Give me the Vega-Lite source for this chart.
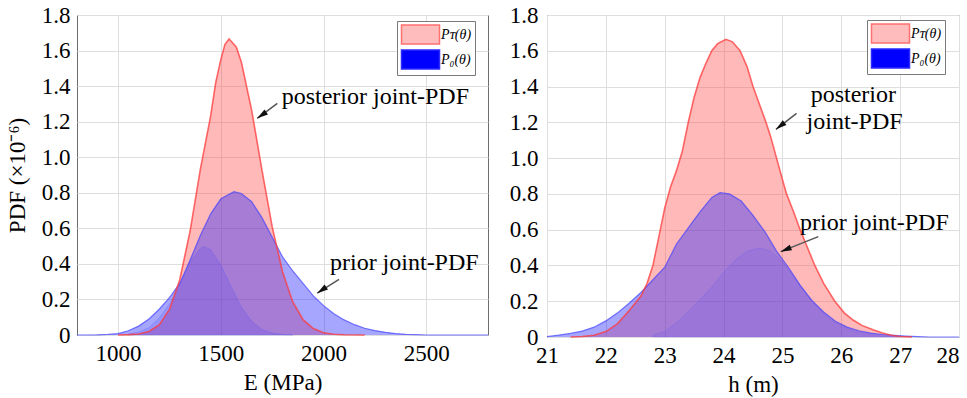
{
  "$schema": "https://vega.github.io/schema/vega-lite/v6.json",
  "padding": {"left": 5, "top": 3, "right": 2, "bottom": 0},
  "background": "white",
  "datasets": {
    "E": [
      {"x": 1000, "pdf": 0, "dist": "Pᴛ(θ)", "part": "env"},
      {"x": 1050, "pdf": 0.002, "dist": "Pᴛ(θ)", "part": "env"},
      {"x": 1100, "pdf": 0.006, "dist": "Pᴛ(θ)", "part": "env"},
      {"x": 1150, "pdf": 0.02, "dist": "Pᴛ(θ)", "part": "env"},
      {"x": 1200, "pdf": 0.057, "dist": "Pᴛ(θ)", "part": "env"},
      {"x": 1250, "pdf": 0.144, "dist": "Pᴛ(θ)", "part": "env"},
      {"x": 1300, "pdf": 0.311, "dist": "Pᴛ(θ)", "part": "env"},
      {"x": 1350, "pdf": 0.582, "dist": "Pᴛ(θ)", "part": "env"},
      {"x": 1400, "pdf": 0.93, "dist": "Pᴛ(θ)", "part": "env"},
      {"x": 1450, "pdf": 1.23, "dist": "Pᴛ(θ)", "part": "env"},
      {"x": 1475, "pdf": 1.42, "dist": "Pᴛ(θ)", "part": "env"},
      {"x": 1500, "pdf": 1.55, "dist": "Pᴛ(θ)", "part": "env"},
      {"x": 1520, "pdf": 1.635, "dist": "Pᴛ(θ)", "part": "env"},
      {"x": 1540, "pdf": 1.665, "dist": "Pᴛ(θ)", "part": "env"},
      {"x": 1575, "pdf": 1.62, "dist": "Pᴛ(θ)", "part": "env"},
      {"x": 1600, "pdf": 1.534, "dist": "Pᴛ(θ)", "part": "env"},
      {"x": 1650, "pdf": 1.264, "dist": "Pᴛ(θ)", "part": "env"},
      {"x": 1700, "pdf": 0.928, "dist": "Pᴛ(θ)", "part": "env"},
      {"x": 1750, "pdf": 0.608, "dist": "Pᴛ(θ)", "part": "env"},
      {"x": 1800, "pdf": 0.356, "dist": "Pᴛ(θ)", "part": "env"},
      {"x": 1850, "pdf": 0.186, "dist": "Pᴛ(θ)", "part": "env"},
      {"x": 1900, "pdf": 0.086, "dist": "Pᴛ(θ)", "part": "env"},
      {"x": 1950, "pdf": 0.036, "dist": "Pᴛ(θ)", "part": "env"},
      {"x": 2000, "pdf": 0.013, "dist": "Pᴛ(θ)", "part": "env"},
      {"x": 2050, "pdf": 0.004, "dist": "Pᴛ(θ)", "part": "env"},
      {"x": 2100, "pdf": 0.001, "dist": "Pᴛ(θ)", "part": "env"},
      {"x": 2200, "pdf": 0, "dist": "Pᴛ(θ)", "part": "env"},
      {"x": 800, "pdf": 0, "dist": "P₀(θ)", "part": "env"},
      {"x": 900, "pdf": 0.001, "dist": "P₀(θ)", "part": "env"},
      {"x": 950, "pdf": 0.003, "dist": "P₀(θ)", "part": "env"},
      {"x": 1000, "pdf": 0.008, "dist": "P₀(θ)", "part": "env"},
      {"x": 1050, "pdf": 0.024, "dist": "P₀(θ)", "part": "env"},
      {"x": 1100, "pdf": 0.05, "dist": "P₀(θ)", "part": "env"},
      {"x": 1150, "pdf": 0.09, "dist": "P₀(θ)", "part": "env"},
      {"x": 1200, "pdf": 0.145, "dist": "P₀(θ)", "part": "env"},
      {"x": 1250, "pdf": 0.21, "dist": "P₀(θ)", "part": "env"},
      {"x": 1300, "pdf": 0.29, "dist": "P₀(θ)", "part": "env"},
      {"x": 1350, "pdf": 0.42, "dist": "P₀(θ)", "part": "env"},
      {"x": 1400, "pdf": 0.56, "dist": "P₀(θ)", "part": "env"},
      {"x": 1450, "pdf": 0.68, "dist": "P₀(θ)", "part": "env"},
      {"x": 1500, "pdf": 0.766, "dist": "P₀(θ)", "part": "env"},
      {"x": 1564, "pdf": 0.806, "dist": "P₀(θ)", "part": "env"},
      {"x": 1600, "pdf": 0.796, "dist": "P₀(θ)", "part": "env"},
      {"x": 1650, "pdf": 0.75, "dist": "P₀(θ)", "part": "env"},
      {"x": 1700, "pdf": 0.66, "dist": "P₀(θ)", "part": "env"},
      {"x": 1750, "pdf": 0.55, "dist": "P₀(θ)", "part": "env"},
      {"x": 1800, "pdf": 0.44, "dist": "P₀(θ)", "part": "env"},
      {"x": 1850, "pdf": 0.36, "dist": "P₀(θ)", "part": "env"},
      {"x": 1900, "pdf": 0.29, "dist": "P₀(θ)", "part": "env"},
      {"x": 1950, "pdf": 0.22, "dist": "P₀(θ)", "part": "env"},
      {"x": 2000, "pdf": 0.165, "dist": "P₀(θ)", "part": "env"},
      {"x": 2050, "pdf": 0.12, "dist": "P₀(θ)", "part": "env"},
      {"x": 2100, "pdf": 0.085, "dist": "P₀(θ)", "part": "env"},
      {"x": 2150, "pdf": 0.058, "dist": "P₀(θ)", "part": "env"},
      {"x": 2200, "pdf": 0.038, "dist": "P₀(θ)", "part": "env"},
      {"x": 2250, "pdf": 0.025, "dist": "P₀(θ)", "part": "env"},
      {"x": 2300, "pdf": 0.015, "dist": "P₀(θ)", "part": "env"},
      {"x": 2350, "pdf": 0.008, "dist": "P₀(θ)", "part": "env"},
      {"x": 2400, "pdf": 0.004, "dist": "P₀(θ)", "part": "env"},
      {"x": 2450, "pdf": 0.002, "dist": "P₀(θ)", "part": "env"},
      {"x": 2500, "pdf": 0, "dist": "P₀(θ)", "part": "env"},
      {"x": 2800, "pdf": 0, "dist": "P₀(θ)", "part": "env"},
      {"x": 1050, "pdf": 0.005, "dist": "P₀(θ)", "part": "inner"},
      {"x": 1100, "pdf": 0.017, "dist": "P₀(θ)", "part": "inner"},
      {"x": 1150, "pdf": 0.041, "dist": "P₀(θ)", "part": "inner"},
      {"x": 1200, "pdf": 0.095, "dist": "P₀(θ)", "part": "inner"},
      {"x": 1250, "pdf": 0.175, "dist": "P₀(θ)", "part": "inner"},
      {"x": 1300, "pdf": 0.28, "dist": "P₀(θ)", "part": "inner"},
      {"x": 1350, "pdf": 0.41, "dist": "P₀(θ)", "part": "inner"},
      {"x": 1400, "pdf": 0.487, "dist": "P₀(θ)", "part": "inner"},
      {"x": 1418, "pdf": 0.497, "dist": "P₀(θ)", "part": "inner"},
      {"x": 1450, "pdf": 0.48, "dist": "P₀(θ)", "part": "inner"},
      {"x": 1500, "pdf": 0.394, "dist": "P₀(θ)", "part": "inner"},
      {"x": 1550, "pdf": 0.271, "dist": "P₀(θ)", "part": "inner"},
      {"x": 1600, "pdf": 0.157, "dist": "P₀(θ)", "part": "inner"},
      {"x": 1650, "pdf": 0.077, "dist": "P₀(θ)", "part": "inner"},
      {"x": 1700, "pdf": 0.031, "dist": "P₀(θ)", "part": "inner"},
      {"x": 1750, "pdf": 0.011, "dist": "P₀(θ)", "part": "inner"},
      {"x": 1800, "pdf": 0.003, "dist": "P₀(θ)", "part": "inner"},
      {"x": 1850, "pdf": 0, "dist": "P₀(θ)", "part": "inner"}
    ],
    "h": [
      {"x": 21.4, "pdf": 0, "dist": "Pᴛ(θ)", "part": "env"},
      {"x": 21.6, "pdf": 0.003, "dist": "Pᴛ(θ)", "part": "env"},
      {"x": 21.8, "pdf": 0.01, "dist": "Pᴛ(θ)", "part": "env"},
      {"x": 22.0, "pdf": 0.03, "dist": "Pᴛ(θ)", "part": "env"},
      {"x": 22.2, "pdf": 0.075, "dist": "Pᴛ(θ)", "part": "env"},
      {"x": 22.4, "pdf": 0.15, "dist": "Pᴛ(θ)", "part": "env"},
      {"x": 22.6, "pdf": 0.23, "dist": "Pᴛ(θ)", "part": "env"},
      {"x": 22.7, "pdf": 0.3, "dist": "Pᴛ(θ)", "part": "env"},
      {"x": 22.8, "pdf": 0.4, "dist": "Pᴛ(θ)", "part": "env"},
      {"x": 22.9, "pdf": 0.56, "dist": "Pᴛ(θ)", "part": "env"},
      {"x": 23.0, "pdf": 0.72, "dist": "Pᴛ(θ)", "part": "env"},
      {"x": 23.1, "pdf": 0.84, "dist": "Pᴛ(θ)", "part": "env"},
      {"x": 23.2, "pdf": 0.93, "dist": "Pᴛ(θ)", "part": "env"},
      {"x": 23.3, "pdf": 1.04, "dist": "Pᴛ(θ)", "part": "env"},
      {"x": 23.4, "pdf": 1.2, "dist": "Pᴛ(θ)", "part": "env"},
      {"x": 23.5, "pdf": 1.34, "dist": "Pᴛ(θ)", "part": "env"},
      {"x": 23.6, "pdf": 1.45, "dist": "Pᴛ(θ)", "part": "env"},
      {"x": 23.7, "pdf": 1.53, "dist": "Pᴛ(θ)", "part": "env"},
      {"x": 23.8, "pdf": 1.6, "dist": "Pᴛ(θ)", "part": "env"},
      {"x": 23.9, "pdf": 1.64, "dist": "Pᴛ(θ)", "part": "env"},
      {"x": 24.04, "pdf": 1.664, "dist": "Pᴛ(θ)", "part": "env"},
      {"x": 24.15, "pdf": 1.65, "dist": "Pᴛ(θ)", "part": "env"},
      {"x": 24.28, "pdf": 1.6, "dist": "Pᴛ(θ)", "part": "env"},
      {"x": 24.4, "pdf": 1.51, "dist": "Pᴛ(θ)", "part": "env"},
      {"x": 24.5, "pdf": 1.4, "dist": "Pᴛ(θ)", "part": "env"},
      {"x": 24.6, "pdf": 1.31, "dist": "Pᴛ(θ)", "part": "env"},
      {"x": 24.72, "pdf": 1.2, "dist": "Pᴛ(θ)", "part": "env"},
      {"x": 24.8, "pdf": 1.12, "dist": "Pᴛ(θ)", "part": "env"},
      {"x": 24.9, "pdf": 1.0, "dist": "Pᴛ(θ)", "part": "env"},
      {"x": 25.0, "pdf": 0.88, "dist": "Pᴛ(θ)", "part": "env"},
      {"x": 25.07, "pdf": 0.8, "dist": "Pᴛ(θ)", "part": "env"},
      {"x": 25.2, "pdf": 0.69, "dist": "Pᴛ(θ)", "part": "env"},
      {"x": 25.3, "pdf": 0.6, "dist": "Pᴛ(θ)", "part": "env"},
      {"x": 25.4, "pdf": 0.52, "dist": "Pᴛ(θ)", "part": "env"},
      {"x": 25.55, "pdf": 0.4, "dist": "Pᴛ(θ)", "part": "env"},
      {"x": 25.7, "pdf": 0.3, "dist": "Pᴛ(θ)", "part": "env"},
      {"x": 25.89, "pdf": 0.2, "dist": "Pᴛ(θ)", "part": "env"},
      {"x": 26.05, "pdf": 0.135, "dist": "Pᴛ(θ)", "part": "env"},
      {"x": 26.2, "pdf": 0.095, "dist": "Pᴛ(θ)", "part": "env"},
      {"x": 26.35, "pdf": 0.065, "dist": "Pᴛ(θ)", "part": "env"},
      {"x": 26.54, "pdf": 0.04, "dist": "Pᴛ(θ)", "part": "env"},
      {"x": 26.7, "pdf": 0.022, "dist": "Pᴛ(θ)", "part": "env"},
      {"x": 26.85, "pdf": 0.01, "dist": "Pᴛ(θ)", "part": "env"},
      {"x": 27.0, "pdf": 0.003, "dist": "Pᴛ(θ)", "part": "env"},
      {"x": 27.2, "pdf": 0, "dist": "Pᴛ(θ)", "part": "env"},
      {"x": 21.0, "pdf": 0.002, "dist": "P₀(θ)", "part": "env"},
      {"x": 21.2, "pdf": 0.01, "dist": "P₀(θ)", "part": "env"},
      {"x": 21.4, "pdf": 0.02, "dist": "P₀(θ)", "part": "env"},
      {"x": 21.6, "pdf": 0.033, "dist": "P₀(θ)", "part": "env"},
      {"x": 21.8, "pdf": 0.055, "dist": "P₀(θ)", "part": "env"},
      {"x": 22.0, "pdf": 0.09, "dist": "P₀(θ)", "part": "env"},
      {"x": 22.2, "pdf": 0.135, "dist": "P₀(θ)", "part": "env"},
      {"x": 22.4, "pdf": 0.19, "dist": "P₀(θ)", "part": "env"},
      {"x": 22.6, "pdf": 0.25, "dist": "P₀(θ)", "part": "env"},
      {"x": 22.8, "pdf": 0.32, "dist": "P₀(θ)", "part": "env"},
      {"x": 23.0, "pdf": 0.39, "dist": "P₀(θ)", "part": "env"},
      {"x": 23.2, "pdf": 0.52, "dist": "P₀(θ)", "part": "env"},
      {"x": 23.4, "pdf": 0.61, "dist": "P₀(θ)", "part": "env"},
      {"x": 23.6, "pdf": 0.7, "dist": "P₀(θ)", "part": "env"},
      {"x": 23.8, "pdf": 0.78, "dist": "P₀(θ)", "part": "env"},
      {"x": 23.94, "pdf": 0.807, "dist": "P₀(θ)", "part": "env"},
      {"x": 24.1, "pdf": 0.8, "dist": "P₀(θ)", "part": "env"},
      {"x": 24.3, "pdf": 0.76, "dist": "P₀(θ)", "part": "env"},
      {"x": 24.5, "pdf": 0.68, "dist": "P₀(θ)", "part": "env"},
      {"x": 24.7, "pdf": 0.59, "dist": "P₀(θ)", "part": "env"},
      {"x": 24.9, "pdf": 0.48, "dist": "P₀(θ)", "part": "env"},
      {"x": 25.1, "pdf": 0.39, "dist": "P₀(θ)", "part": "env"},
      {"x": 25.3, "pdf": 0.29, "dist": "P₀(θ)", "part": "env"},
      {"x": 25.5, "pdf": 0.205, "dist": "P₀(θ)", "part": "env"},
      {"x": 25.7, "pdf": 0.14, "dist": "P₀(θ)", "part": "env"},
      {"x": 25.9, "pdf": 0.088, "dist": "P₀(θ)", "part": "env"},
      {"x": 26.1, "pdf": 0.055, "dist": "P₀(θ)", "part": "env"},
      {"x": 26.3, "pdf": 0.035, "dist": "P₀(θ)", "part": "env"},
      {"x": 26.5, "pdf": 0.022, "dist": "P₀(θ)", "part": "env"},
      {"x": 26.7, "pdf": 0.014, "dist": "P₀(θ)", "part": "env"},
      {"x": 26.9, "pdf": 0.009, "dist": "P₀(θ)", "part": "env"},
      {"x": 27.1, "pdf": 0.005, "dist": "P₀(θ)", "part": "env"},
      {"x": 27.3, "pdf": 0.002, "dist": "P₀(θ)", "part": "env"},
      {"x": 27.5, "pdf": 0, "dist": "P₀(θ)", "part": "env"},
      {"x": 28.0, "pdf": 0, "dist": "P₀(θ)", "part": "env"},
      {"x": 22.8, "pdf": 0.01, "dist": "P₀(θ)", "part": "inner"},
      {"x": 23.0, "pdf": 0.03, "dist": "P₀(θ)", "part": "inner"},
      {"x": 23.2, "pdf": 0.08, "dist": "P₀(θ)", "part": "inner"},
      {"x": 23.4, "pdf": 0.14, "dist": "P₀(θ)", "part": "inner"},
      {"x": 23.6, "pdf": 0.21, "dist": "P₀(θ)", "part": "inner"},
      {"x": 23.8, "pdf": 0.28, "dist": "P₀(θ)", "part": "inner"},
      {"x": 24.0, "pdf": 0.36, "dist": "P₀(θ)", "part": "inner"},
      {"x": 24.2, "pdf": 0.43, "dist": "P₀(θ)", "part": "inner"},
      {"x": 24.4, "pdf": 0.48, "dist": "P₀(θ)", "part": "inner"},
      {"x": 24.62, "pdf": 0.497, "dist": "P₀(θ)", "part": "inner"},
      {"x": 24.8, "pdf": 0.48, "dist": "P₀(θ)", "part": "inner"},
      {"x": 25.0, "pdf": 0.42, "dist": "P₀(θ)", "part": "inner"},
      {"x": 25.2, "pdf": 0.33, "dist": "P₀(θ)", "part": "inner"},
      {"x": 25.4, "pdf": 0.24, "dist": "P₀(θ)", "part": "inner"},
      {"x": 25.6, "pdf": 0.16, "dist": "P₀(θ)", "part": "inner"},
      {"x": 25.8, "pdf": 0.1, "dist": "P₀(θ)", "part": "inner"},
      {"x": 26.0, "pdf": 0.06, "dist": "P₀(θ)", "part": "inner"},
      {"x": 26.2, "pdf": 0.035, "dist": "P₀(θ)", "part": "inner"},
      {"x": 26.4, "pdf": 0.018, "dist": "P₀(θ)", "part": "inner"},
      {"x": 26.6, "pdf": 0.008, "dist": "P₀(θ)", "part": "inner"},
      {"x": 26.8, "pdf": 0.003, "dist": "P₀(θ)", "part": "inner"},
      {"x": 27.0, "pdf": 0, "dist": "P₀(θ)", "part": "inner"}
    ],
    "annE": [
      {"label": "posterior joint-PDF", "x": 1796, "pdf": 1.34, "x2": 1775, "pdf2": 1.303, "tx": 1677, "tpdf": 1.219},
      {"label": "prior joint-PDF", "x": 2031, "pdf": 0.403, "x2": 2075, "pdf2": 0.313, "tx": 1969, "tpdf": 0.235}
    ],
    "annH": [
      {"label": "posterior", "x": 25.48, "pdf": 1.353},
      {"label": "joint-PDF", "x": 25.41, "pdf": 1.204},
      {"label": "prior joint-PDF", "x": 25.3, "pdf": 0.639}
    ],
    "arrH": [
      {"name": "posterior", "x2": 25.24, "pdf2": 1.25, "tx": 24.89, "tpdf": 1.161},
      {"name": "prior", "x2": 25.61, "pdf2": 0.561, "tx": 24.97, "tpdf": 0.477}
    ],
    "legend": [
      {"dist": "Pᴛ(θ)"},
      {"dist": "P₀(θ)"}
    ]
  },
  "spacing": 17,
  "resolve": {"scale": {"color": "independent", "stroke": "independent"}, "legend": {"color": "independent", "stroke": "independent"}},
  "config": {
    "view": {"stroke": "#6e6e6e", "strokeWidth": 1},
    "axis": {
      "labelFont": "Liberation Serif", "labelFontSize": 23, "labelColor": "#000000", "labelOverlap": false,
      "titleFont": "Liberation Serif", "titleFontSize": 23, "titleFontWeight": "normal", "titleColor": "#000000",
      "gridColor": "#dedede", "gridWidth": 1, "ticks": false, "domain": false, "labelPadding": 7
    },
    "axisY": {"labelOverlap": false, "labelFont": "Liberation Serif", "labelFontSize": 23},
    "axisX": {"labelOverlap": false, "labelFont": "Liberation Serif", "labelFontSize": 23},
    "axisQuantitative": {"labelOverlap": false},
    "legend": {
      "orient": "none", "title": null, "symbolType": "M-2,-1H2V1H-2Z", "symbolSize": 361,
      "symbolOffset": 10, "labelOffset": 10, "labelFont": "Liberation Serif", "labelFontStyle": "italic",
      "labelFontSize": 14, "labelColor": "#000000", "fillColor": "white", "strokeColor": "#7a7a7a",
      "padding": 3, "rowPadding": 0, "cornerRadius": 0, "symbolStrokeWidth": 1.5, "symbolOpacity": 1
    }
  },
  "hconcat": [
    {
      "width": 411, "height": 320,
      "layer": [
        {
          "data": {"name": "E"},
          "transform": [{"filter": "datum.dist === 'Pᴛ(θ)'"}],
          "mark": {"type": "area", "fill": "#ff5050", "fillOpacity": 0.4},
          "encoding": {
            "x": {"field": "x", "type": "quantitative", "scale": {"domain": [800, 2800], "nice": false, "zero": false},
                  "axis": {"title": "E (MPa)", "values": [1000, 1500, 2000, 2500], "grid": true, "titlePadding": 6,
                           "labelFont": "Liberation Serif", "labelFontSize": 23,
                           "labelOverlap": false, "labelFlush": false, "labelExpr": "format(datum.value, 'd')"}},
            "y": {"field": "pdf", "type": "quantitative", "scale": {"domain": [0, 1.8], "nice": false},
                  "axis": {"title": "PDF (×10⁻⁶)", "values": [0, 0.2, 0.4, 0.6, 0.8, 1.0, 1.2, 1.4, 1.6, 1.8], "tickCount": 10, "grid": true, "titlePadding": 12,
                           "labelFont": "Liberation Serif", "labelFontSize": 23,
                           "labelOverlap": false, "labelFlush": false, "labelBound": false,
                           "labelExpr": "datum.value === 0 ? '0' : format(datum.value, '.1f')"}}
          }
        },
        {
          "data": {"name": "E"},
          "transform": [{"filter": "datum.dist === 'P₀(θ)' && datum.part === 'env'"}],
          "mark": {"type": "area", "fill": "#2020ff", "fillOpacity": 0.4},
          "encoding": {
            "x": {"field": "x", "type": "quantitative"},
            "y": {"field": "pdf", "type": "quantitative"}
          }
        },
        {
          "data": {"name": "E"},
          "transform": [{"filter": "datum.part === 'inner'"}],
          "mark": {"type": "area", "fill": "#2020ff", "fillOpacity": 0.12, "stroke": "#5050ff", "strokeOpacity": 0.25, "strokeWidth": 1},
          "encoding": {
            "x": {"field": "x", "type": "quantitative"},
            "y": {"field": "pdf", "type": "quantitative"}
          }
        },
        {
          "data": {"name": "E"},
          "transform": [{"filter": "datum.dist === 'P₀(θ)' && datum.part === 'env'"}],
          "mark": {"type": "line", "color": "#4040ff", "strokeWidth": 1.2, "opacity": 0.7},
          "encoding": {
            "x": {"field": "x", "type": "quantitative"},
            "y": {"field": "pdf", "type": "quantitative"}
          }
        },
        {
          "data": {"name": "E"},
          "transform": [{"filter": "datum.dist === 'Pᴛ(θ)'"}],
          "mark": {"type": "line", "color": "#ff3a3a", "strokeWidth": 1.6, "opacity": 0.75},
          "encoding": {
            "x": {"field": "x", "type": "quantitative"},
            "y": {"field": "pdf", "type": "quantitative"}
          }
        },
        {
          "data": {"name": "annE"},
          "mark": {"type": "rule", "color": "#555555", "strokeWidth": 1.5},
          "encoding": {
            "x": {"field": "x2", "type": "quantitative"},
            "y": {"field": "pdf2", "type": "quantitative"},
            "x2": {"field": "tx"},
            "y2": {"field": "tpdf"}
          }
        },
        {
          "data": {"name": "annE"},
          "mark": {"type": "point", "shape": "M0,0L0.55,2L-0.55,2Z", "size": 121, "filled": true, "color": "#111111", "opacity": 1, "angle": 235},
          "encoding": {
            "x": {"field": "tx", "type": "quantitative"},
            "y": {"field": "tpdf", "type": "quantitative"}
          }
        },
        {
          "data": {"name": "annE"},
          "mark": {"type": "text", "align": "left", "baseline": "middle", "font": "Liberation Serif", "fontSize": 24, "color": "#000000"},
          "encoding": {
            "x": {"field": "x", "type": "quantitative"},
            "y": {"field": "pdf", "type": "quantitative"},
            "text": {"field": "label"}
          }
        },
        {
          "data": {"name": "legend"},
          "transform": [{"filter": "false"}],
          "mark": {"type": "area", "fillOpacity": 1, "strokeWidth": 1.5},
          "encoding": {
            "color": {"field": "dist", "type": "nominal", "scale": {"domain": ["Pᴛ(θ)", "P₀(θ)"], "range": ["#ffbcbc", "#0000ff"]},
                      "legend": {"legendX": 320, "legendY": 6}},
            "stroke": {"field": "dist", "type": "nominal", "scale": {"domain": ["Pᴛ(θ)", "P₀(θ)"], "range": ["#ff7070", "#2a2aff"]},
                      "legend": {"legendX": 320, "legendY": 6}}
          }
        }
      ]
    },
    {
      "width": 412, "height": 322,
      "layer": [
        {
          "data": {"name": "h"},
          "transform": [{"filter": "datum.dist === 'Pᴛ(θ)'"}],
          "mark": {"type": "area", "fill": "#ff5050", "fillOpacity": 0.4},
          "encoding": {
            "x": {"field": "x", "type": "quantitative", "scale": {"domain": [21, 28], "nice": false, "zero": false},
                  "axis": {"title": "h (m)", "values": [21, 22, 23, 24, 25, 26, 27, 28], "grid": true, "titlePadding": 6,
                           "labelFont": "Liberation Serif", "labelFontSize": 23,
                           "labelOverlap": false, "labelFlush": false, "labelBound": false,
                           "labelAlign": {"condition": {"test": "datum.value === 28", "value": "right"}, "value": "center"},
                           "labelExpr": "format(datum.value, 'd')"}},
            "y": {"field": "pdf", "type": "quantitative", "scale": {"domain": [0, 1.8], "nice": false},
                  "axis": {"title": null, "values": [0, 0.2, 0.4, 0.6, 0.8, 1.0, 1.2, 1.4, 1.6, 1.8], "tickCount": 10, "grid": true, "labelPadding": 9,
                           "labelFont": "Liberation Serif", "labelFontSize": 23,
                           "labelOverlap": false, "labelFlush": false, "labelBound": false,
                           "labelExpr": "datum.value === 0 ? '0' : format(datum.value, '.1f')"}}
          }
        },
        {
          "data": {"name": "h"},
          "transform": [{"filter": "datum.dist === 'P₀(θ)' && datum.part === 'env'"}],
          "mark": {"type": "area", "fill": "#2020ff", "fillOpacity": 0.4},
          "encoding": {
            "x": {"field": "x", "type": "quantitative"},
            "y": {"field": "pdf", "type": "quantitative"}
          }
        },
        {
          "data": {"name": "h"},
          "transform": [{"filter": "datum.part === 'inner'"}],
          "mark": {"type": "area", "fill": "#2020ff", "fillOpacity": 0.08, "stroke": "#5050ff", "strokeOpacity": 0.2, "strokeWidth": 1},
          "encoding": {
            "x": {"field": "x", "type": "quantitative"},
            "y": {"field": "pdf", "type": "quantitative"}
          }
        },
        {
          "data": {"name": "h"},
          "transform": [{"filter": "datum.dist === 'P₀(θ)' && datum.part === 'env'"}],
          "mark": {"type": "line", "color": "#4040ff", "strokeWidth": 1.2, "opacity": 0.7},
          "encoding": {
            "x": {"field": "x", "type": "quantitative"},
            "y": {"field": "pdf", "type": "quantitative"}
          }
        },
        {
          "data": {"name": "h"},
          "transform": [{"filter": "datum.dist === 'Pᴛ(θ)'"}],
          "mark": {"type": "line", "color": "#ff3a3a", "strokeWidth": 1.6, "opacity": 0.75},
          "encoding": {
            "x": {"field": "x", "type": "quantitative"},
            "y": {"field": "pdf", "type": "quantitative"}
          }
        },
        {
          "data": {"name": "arrH"},
          "mark": {"type": "rule", "color": "#555555", "strokeWidth": 1.5},
          "encoding": {
            "x": {"field": "x2", "type": "quantitative"},
            "y": {"field": "pdf2", "type": "quantitative"},
            "x2": {"field": "tx"},
            "y2": {"field": "tpdf"}
          }
        },
        {
          "data": {"name": "arrH"},
          "transform": [{"filter": "datum.name === 'posterior'"}],
          "mark": {"type": "point", "shape": "M0,0L0.55,2L-0.55,2Z", "size": 121, "filled": true, "color": "#111111", "opacity": 1, "angle": 232},
          "encoding": {
            "x": {"field": "tx", "type": "quantitative"},
            "y": {"field": "tpdf", "type": "quantitative"}
          }
        },
        {
          "data": {"name": "arrH"},
          "transform": [{"filter": "datum.name === 'prior'"}],
          "mark": {"type": "point", "shape": "M0,0L0.55,2L-0.55,2Z", "size": 121, "filled": true, "color": "#111111", "opacity": 1, "angle": 248},
          "encoding": {
            "x": {"field": "tx", "type": "quantitative"},
            "y": {"field": "tpdf", "type": "quantitative"}
          }
        },
        {
          "data": {"name": "annH"},
          "mark": {"type": "text", "align": "left", "baseline": "middle", "font": "Liberation Serif", "fontSize": 24, "color": "#000000"},
          "encoding": {
            "x": {"field": "x", "type": "quantitative"},
            "y": {"field": "pdf", "type": "quantitative"},
            "text": {"field": "label"}
          }
        },
        {
          "data": {"name": "legend"},
          "transform": [{"filter": "false"}],
          "mark": {"type": "area", "fillOpacity": 1, "strokeWidth": 1.5},
          "encoding": {
            "color": {"field": "dist", "type": "nominal", "scale": {"domain": ["Pᴛ(θ)", "P₀(θ)"], "range": ["#ffbcbc", "#0000ff"]},
                      "legend": {"legendX": 320, "legendY": 5}},
            "stroke": {"field": "dist", "type": "nominal", "scale": {"domain": ["Pᴛ(θ)", "P₀(θ)"], "range": ["#ff7070", "#2a2aff"]},
                      "legend": {"legendX": 320, "legendY": 5}}
          }
        }
      ]
    }
  ]
}
